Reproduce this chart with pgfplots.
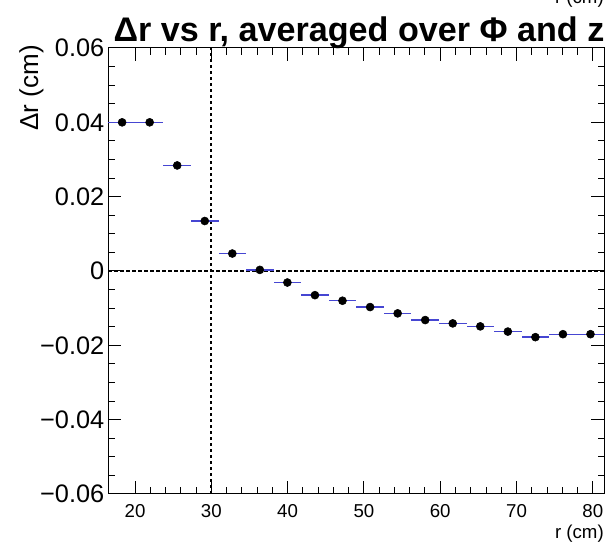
\documentclass[border=0pt]{standalone}
\usepackage{fontspec}
\setmainfont{Liberation Sans}
\usepackage{pgfplots}
\pgfplotsset{compat=1.18}
\definecolor{errblue}{RGB}{70,70,210}

\begin{document}
\begin{tikzpicture}[x=0.75pt,y=0.75pt]
\clip (0,0) rectangle (611,543);
\path[use as bounding box] (0,0) rectangle (611,543);
\begin{axis}[
  at={(81.225pt,36.75pt)}, anchor=south west,
  scale only axis, width=372pt, height=334.5pt,
  xmin=16.5, xmax=81.5, ymin=-0.06, ymax=0.06,
  xtick={20,30,40,50,60,70,80},
  minor x tick num=4,
  ytick={-0.06,-0.04,-0.02,0,0.02,0.04,0.06},
  yticklabels={−0.06,−0.04,−0.02,0,0.02,0.04,0.06},
  minor y tick num=3,
  scaled y ticks=false,
  tick align=inside, tick pos=both,
  major tick length=9.75pt, minor tick length=5pt,
  axis line style={line width=0.75pt},
  every tick/.style={line width=0.75pt, black},
  /pgf/number format/assume math mode=true,
  xticklabel style={font=\fontsize{14}{14}\selectfont, yshift=-4.5pt},
  yticklabel style={font=\fontsize{19}{19}\selectfont, xshift=0.5pt},
  clip=false,
]
\addplot[black, line width=1.3pt, dash pattern=on 2.5pt off 2pt] coordinates {(16.5,0) (81.5,0)};
\addplot[black, line width=1.3pt, dash pattern=on 2.5pt off 2pt] coordinates {(30,-0.06) (30,0.06)};
\addplot[only marks, mark=*, mark size=3pt, black,
  error bars/.cd, x dir=both, x explicit, error mark=none,
  error bar style={errblue, line width=1pt}]
  table[x=x, y=y, x error=ex] {
x y ex
18.31 0.0400 1.806
21.92 0.0400 1.806
25.53 0.0284 1.806
29.14 0.01345 1.806
32.75 0.0047 1.806
36.36 0.0003 1.806
39.97 -0.0031 1.806
43.58 -0.0065 1.806
47.19 -0.0080 1.806
50.81 -0.0097 1.806
54.42 -0.0114 1.806
58.03 -0.0132 1.806
61.64 -0.0141 1.806
65.25 -0.0149 1.806
68.86 -0.0163 1.806
72.47 -0.0178 1.806
76.08 -0.0170 1.806
79.69 -0.0170 1.806
};
\end{axis}
\node[anchor=base, inner sep=0pt, font=\fontsize{25.6}{25.6}\selectfont\bfseries] at (359,501) {Δr vs r, averaged over Φ and z};
\node[anchor=base east, inner sep=0pt, font=\fontsize{14}{14}\selectfont] at (604,4) {r (cm)};
\node[anchor=base east, inner sep=0pt, font=\fontsize{14}{14}\selectfont] at (604,539) {r (cm)};
\node[rotate=90, anchor=base east, inner sep=0pt, font=\fontsize{19.5}{19.5}\selectfont] at (38,498) {Δr (cm)};
\end{tikzpicture}
\end{document}
